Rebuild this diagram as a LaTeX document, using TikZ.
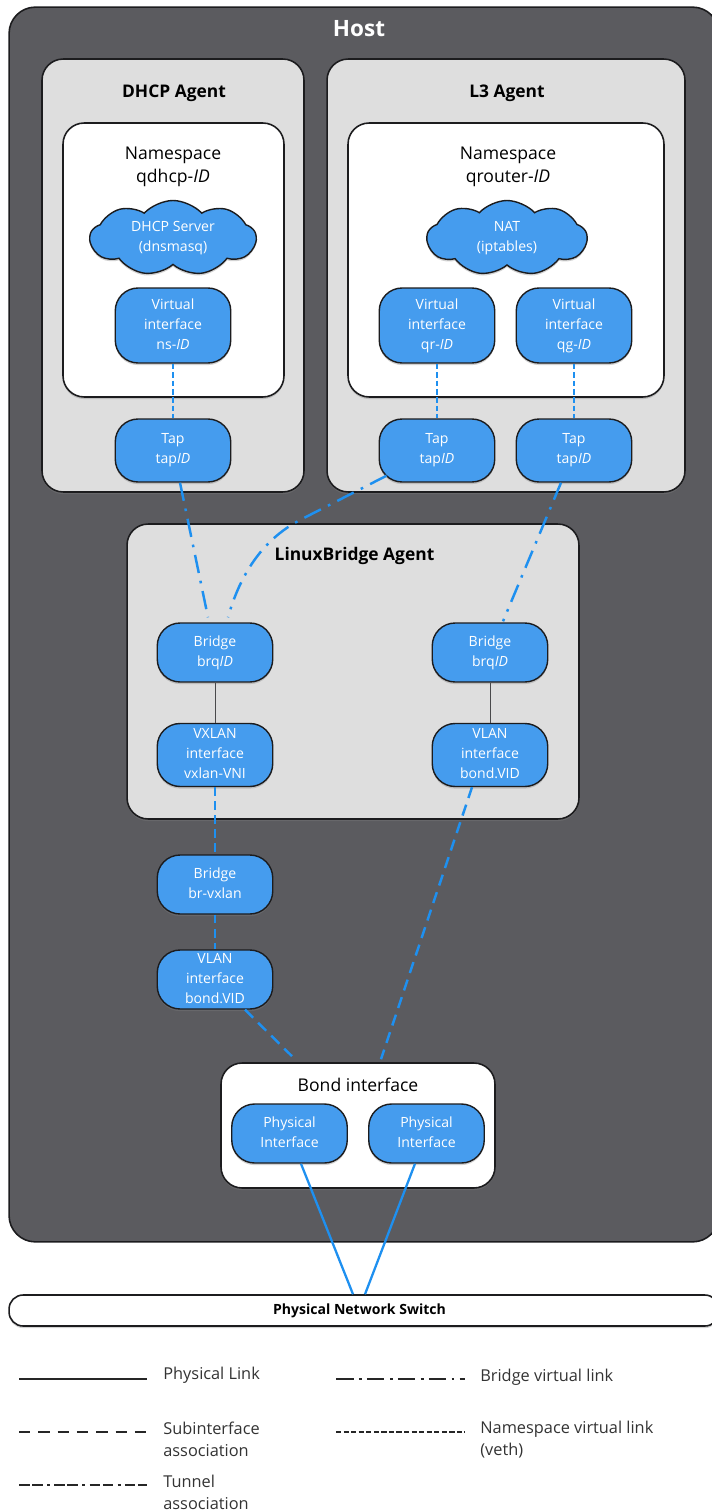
\documentclass[tikz,border=0pt]{standalone}
\usepackage{fontspec}
\setmainfont{Open Sans}
\usepackage{tikz}
\usetikzlibrary{shapes}
\usetikzlibrary{shadows}
\definecolor{hostgray}{HTML}{5B5B5F}
\definecolor{panelgray}{HTML}{DEDEDE}
\definecolor{ifblue}{HTML}{459CEE}
\definecolor{linkblue}{HTML}{1E90F0}
\definecolor{edgeblack}{HTML}{1C1C1E}
\tikzset{
	softshadow/.style={drop shadow={opacity=0.35, shadow xshift=0pt, shadow yshift=-1.2pt}},
	bluetext/.style={text=white, inner sep=0pt, align=center, font=\fontsize{8}{11.4}\selectfont, execute at begin node={\rule{0pt}{10.5pt}}, execute at end node={\rule[-1.5pt]{0pt}{1.5pt}}},
	hostbox/.style={rectangle, rounded corners=15pt, draw=edgeblack, line width=0.9pt, fill=hostgray, inner sep=0pt},
	panelbox/.style={rectangle, rounded corners=12pt, draw=edgeblack, line width=0.9pt, fill=panelgray, inner sep=0pt, softshadow},
	whitebox/.style={rectangle, rounded corners=12pt, draw=edgeblack, line width=0.9pt, fill=white, inner sep=0pt, softshadow},
	ifbox/.style={rectangle, rounded corners=13pt, draw=edgeblack, line width=0.8pt, fill=ifblue, minimum width=2.31cm, bluetext, softshadow},
	cloudbox/.style={cloud, cloud puffs=9, cloud puff arc=95, aspect=2.4, draw=edgeblack, line width=0.8pt, fill=ifblue, bluetext, softshadow},
	paneltitle/.style={font=\fontsize{9.9}{12}\selectfont\bfseries, text=black, inner sep=0pt},
	nstitle/.style={font=\fontsize{10}{13}\selectfont, text=black, align=center, inner sep=0pt},
	legendtext/.style={font=\fontsize{9.3}{12.4}\selectfont, text=black!80, align=left, anchor=west, inner sep=0pt},
	physlink/.style={draw=linkblue, line width=1.3pt},
	bridgelink/.style={draw=linkblue, line width=1.4pt, dash pattern=on 10.5pt off 4.5pt on 1.5pt off 4.5pt},
	tunnellink/.style={draw=linkblue, line width=1.4pt, dash pattern=on 5pt off 3pt},
	sublink/.style={draw=linkblue, line width=1.4pt, dash pattern=on 6.5pt off 4pt},
	nslink/.style={draw=linkblue, line width=1.3pt, dash pattern=on 3.2pt off 1.6pt},
	innerlink/.style={draw=edgeblack!80, line width=0.5pt},
	legendline/.style={draw=black!85, line width=0.8pt}
}
\begin{document}
\begin{tikzpicture}[x=0.02cm, y=-0.02cm]
	\useasboundingbox (0,0) rectangle (711,1510);

	\node[hostbox, minimum width=14.2cm, minimum height=24.7cm] (host) at (364,624.5) {};
	\node[font=\fontsize{12.8}{15}\selectfont\bfseries, text=white, inner sep=0pt] (hosttitle) at (359,29) {Host};

	\node[panelbox, minimum width=5.24cm, minimum height=8.66cm] (dhcp) at (173,275.5) {};
	\node[panelbox, minimum width=7.16cm, minimum height=8.66cm] (lthree) at (506,275.5) {};
	\node[panelbox, minimum width=9.04cm, minimum height=5.9cm] (lb) at (353,671.5) {};
	\node[paneltitle] (dhcptitle) at (174,93.5) {DHCP Agent};
	\node[paneltitle] (lthreetitle) at (507,93.5) {L3 Agent};
	\node[paneltitle] (lbtitle) at (354.5,555.5) {LinuxBridge Agent};

	\node[whitebox, minimum width=4.42cm, minimum height=5.48cm] (nsdhcp) at (173.5,260) {};
	\node[whitebox, minimum width=6.32cm, minimum height=5.48cm] (nsrouter) at (506,260) {};
	\node[nstitle] (nsdhcptitle) at (173,167) {Namespace\\qdhcp-\textit{ID}};
	\node[nstitle] (nsroutertitle) at (508,167) {Namespace\\qrouter-\textit{ID}};

	\node[cloudbox, minimum width=3.32cm, minimum height=1.5cm] (dnsmasq) at (173,238) {DHCP Server\\(dnsmasq)};
	\node[cloudbox, minimum width=3.2cm, minimum height=1.5cm] (nat) at (507,238) {NAT\\(iptables)};

	\node[ifbox, minimum height=1.5cm] (vifns) at (173,325.5) {Virtual\\interface\\ns-\textit{ID}};
	\node[ifbox, minimum height=1.5cm] (vifqr) at (437,325.5) {Virtual\\interface\\qr-\textit{ID}};
	\node[ifbox, minimum height=1.5cm] (vifqg) at (574,325.5) {Virtual\\interface\\qg-\textit{ID}};
	\node[ifbox, minimum height=1.26cm] (tapa) at (173,450.5) {Tap\\tap\textit{ID}};
	\node[ifbox, minimum height=1.26cm] (tapb) at (437,450.5) {Tap\\tap\textit{ID}};
	\node[ifbox, minimum height=1.26cm] (tapc) at (574,450.5) {Tap\\tap\textit{ID}};

	\node[ifbox, minimum height=1.18cm] (bra) at (215,652.5) {Bridge\\brq\textit{ID}};
	\node[ifbox, minimum height=1.18cm] (brb) at (490,652.5) {Bridge\\brq\textit{ID}};
	\node[ifbox, minimum height=1.26cm] (vxlan) at (215,755) {VXLAN\\interface\\vxlan-VNI};
	\node[ifbox, minimum height=1.26cm] (vlana) at (490,755) {VLAN\\interface\\bond.VID};
	\node[ifbox, minimum height=1.18cm] (brvx) at (215,884.5) {Bridge\\br-vxlan};
	\node[ifbox, minimum height=1.18cm] (vlanb) at (215,979.5) {VLAN\\interface\\bond.VID};

	\node[whitebox, minimum width=5.48cm, minimum height=2.5cm] (bond) at (358,1125.5) {};
	\node[nstitle] (bondtitle) at (358,1084.5) {Bond interface};
	\node[ifbox, minimum height=1.18cm] (phya) at (289.5,1133.5) {Physical\\Interface};
	\node[ifbox, minimum height=1.18cm] (phyb) at (426.5,1133.5) {Physical\\Interface};

	\node[rectangle, rounded corners=8pt, draw=edgeblack, line width=0.9pt, fill=white, inner sep=0pt, minimum width=14.2cm, minimum height=0.62cm, softshadow] (switch) at (364,1310.5) {};
	\node[font=\fontsize{8}{9}\selectfont\bfseries, inner sep=0pt] (switchtitle) at (359.5,1310.5) {Physical Network Switch};

	\draw[nslink] (vifns) -- (tapa);
	\draw[nslink] (vifqr) -- (tapb);
	\draw[nslink] (vifqg) -- (tapc);
	\draw[bridgelink] ([shift={(7,0)}]tapa.south) -- ([shift={(-7,-5)}]bra.north);
	\draw[bridgelink] ([shift={(8,-7)}]tapb.south west) -- (300,520) .. controls (262,540) and (240,575) .. ([shift={(13,-5)}]bra.north);
	\draw[bridgelink] ([shift={(-13,0)}]tapc.south) -- ([shift={(13,-1)}]brb.north);
	\draw[innerlink] (bra) -- (vxlan);
	\draw[innerlink] (brb) -- (vlana);
	\draw[tunnellink] (vxlan) -- (brvx);
	\draw[tunnellink] (brvx) -- (vlanb);
	\draw[sublink] ([shift={(30,0)}]vlanb.south) -- ([shift={(-66,-6)}]bond.north);
	\draw[sublink] ([shift={(-18,0)}]vlana.south) -- ([shift={(23,-3)}]bond.north);
	\draw[physlink] ([shift={(11.5,0)}]phya.south) -- ([shift={(-11,0)}]switch.north);
	\draw[physlink] ([shift={(-11.5,0)}]phyb.south) -- ([shift={(1,0)}]switch.north);

	\coordinate (physa) at (19,1379);
	\coordinate (physb) at (147,1379);
	\coordinate (subia) at (19,1432);
	\coordinate (subib) at (147,1432);
	\coordinate (tunna) at (19,1485);
	\coordinate (tunnb) at (147,1485);
	\coordinate (brida) at (336,1379);
	\coordinate (bridb) at (465,1379);
	\coordinate (namea) at (336,1432);
	\coordinate (nameb) at (465,1432);

	\draw[legendline] (physa) -- (physb);
	\draw[legendline, dash pattern=on 6.5pt off 4.5pt] (subia) -- (subib);
	\draw[legendline, dash pattern=on 6pt off 1.5pt on 6pt off 2.5pt on 1.6pt off 2.5pt] (tunna) -- (tunnb);
	\draw[legendline, dash pattern=on 10pt off 3pt on 1.6pt off 3pt] (brida) -- (bridb);
	\draw[legendline, dash pattern=on 3pt off 1.3pt] (namea) -- (nameb);

	\node[legendtext] (lphys) at (163,1375) {Physical Link};
	\node[legendtext] (lsubi) at (163,1439.5) {Subinterface\\association};
	\node[legendtext] (ltunn) at (163,1492) {Tunnel\\association};
	\node[legendtext] (lbrid) at (480,1377) {Bridge virtual link};
	\node[legendtext] (lname) at (480,1439.5) {Namespace virtual link\\(veth)};
\end{tikzpicture}
\end{document}
